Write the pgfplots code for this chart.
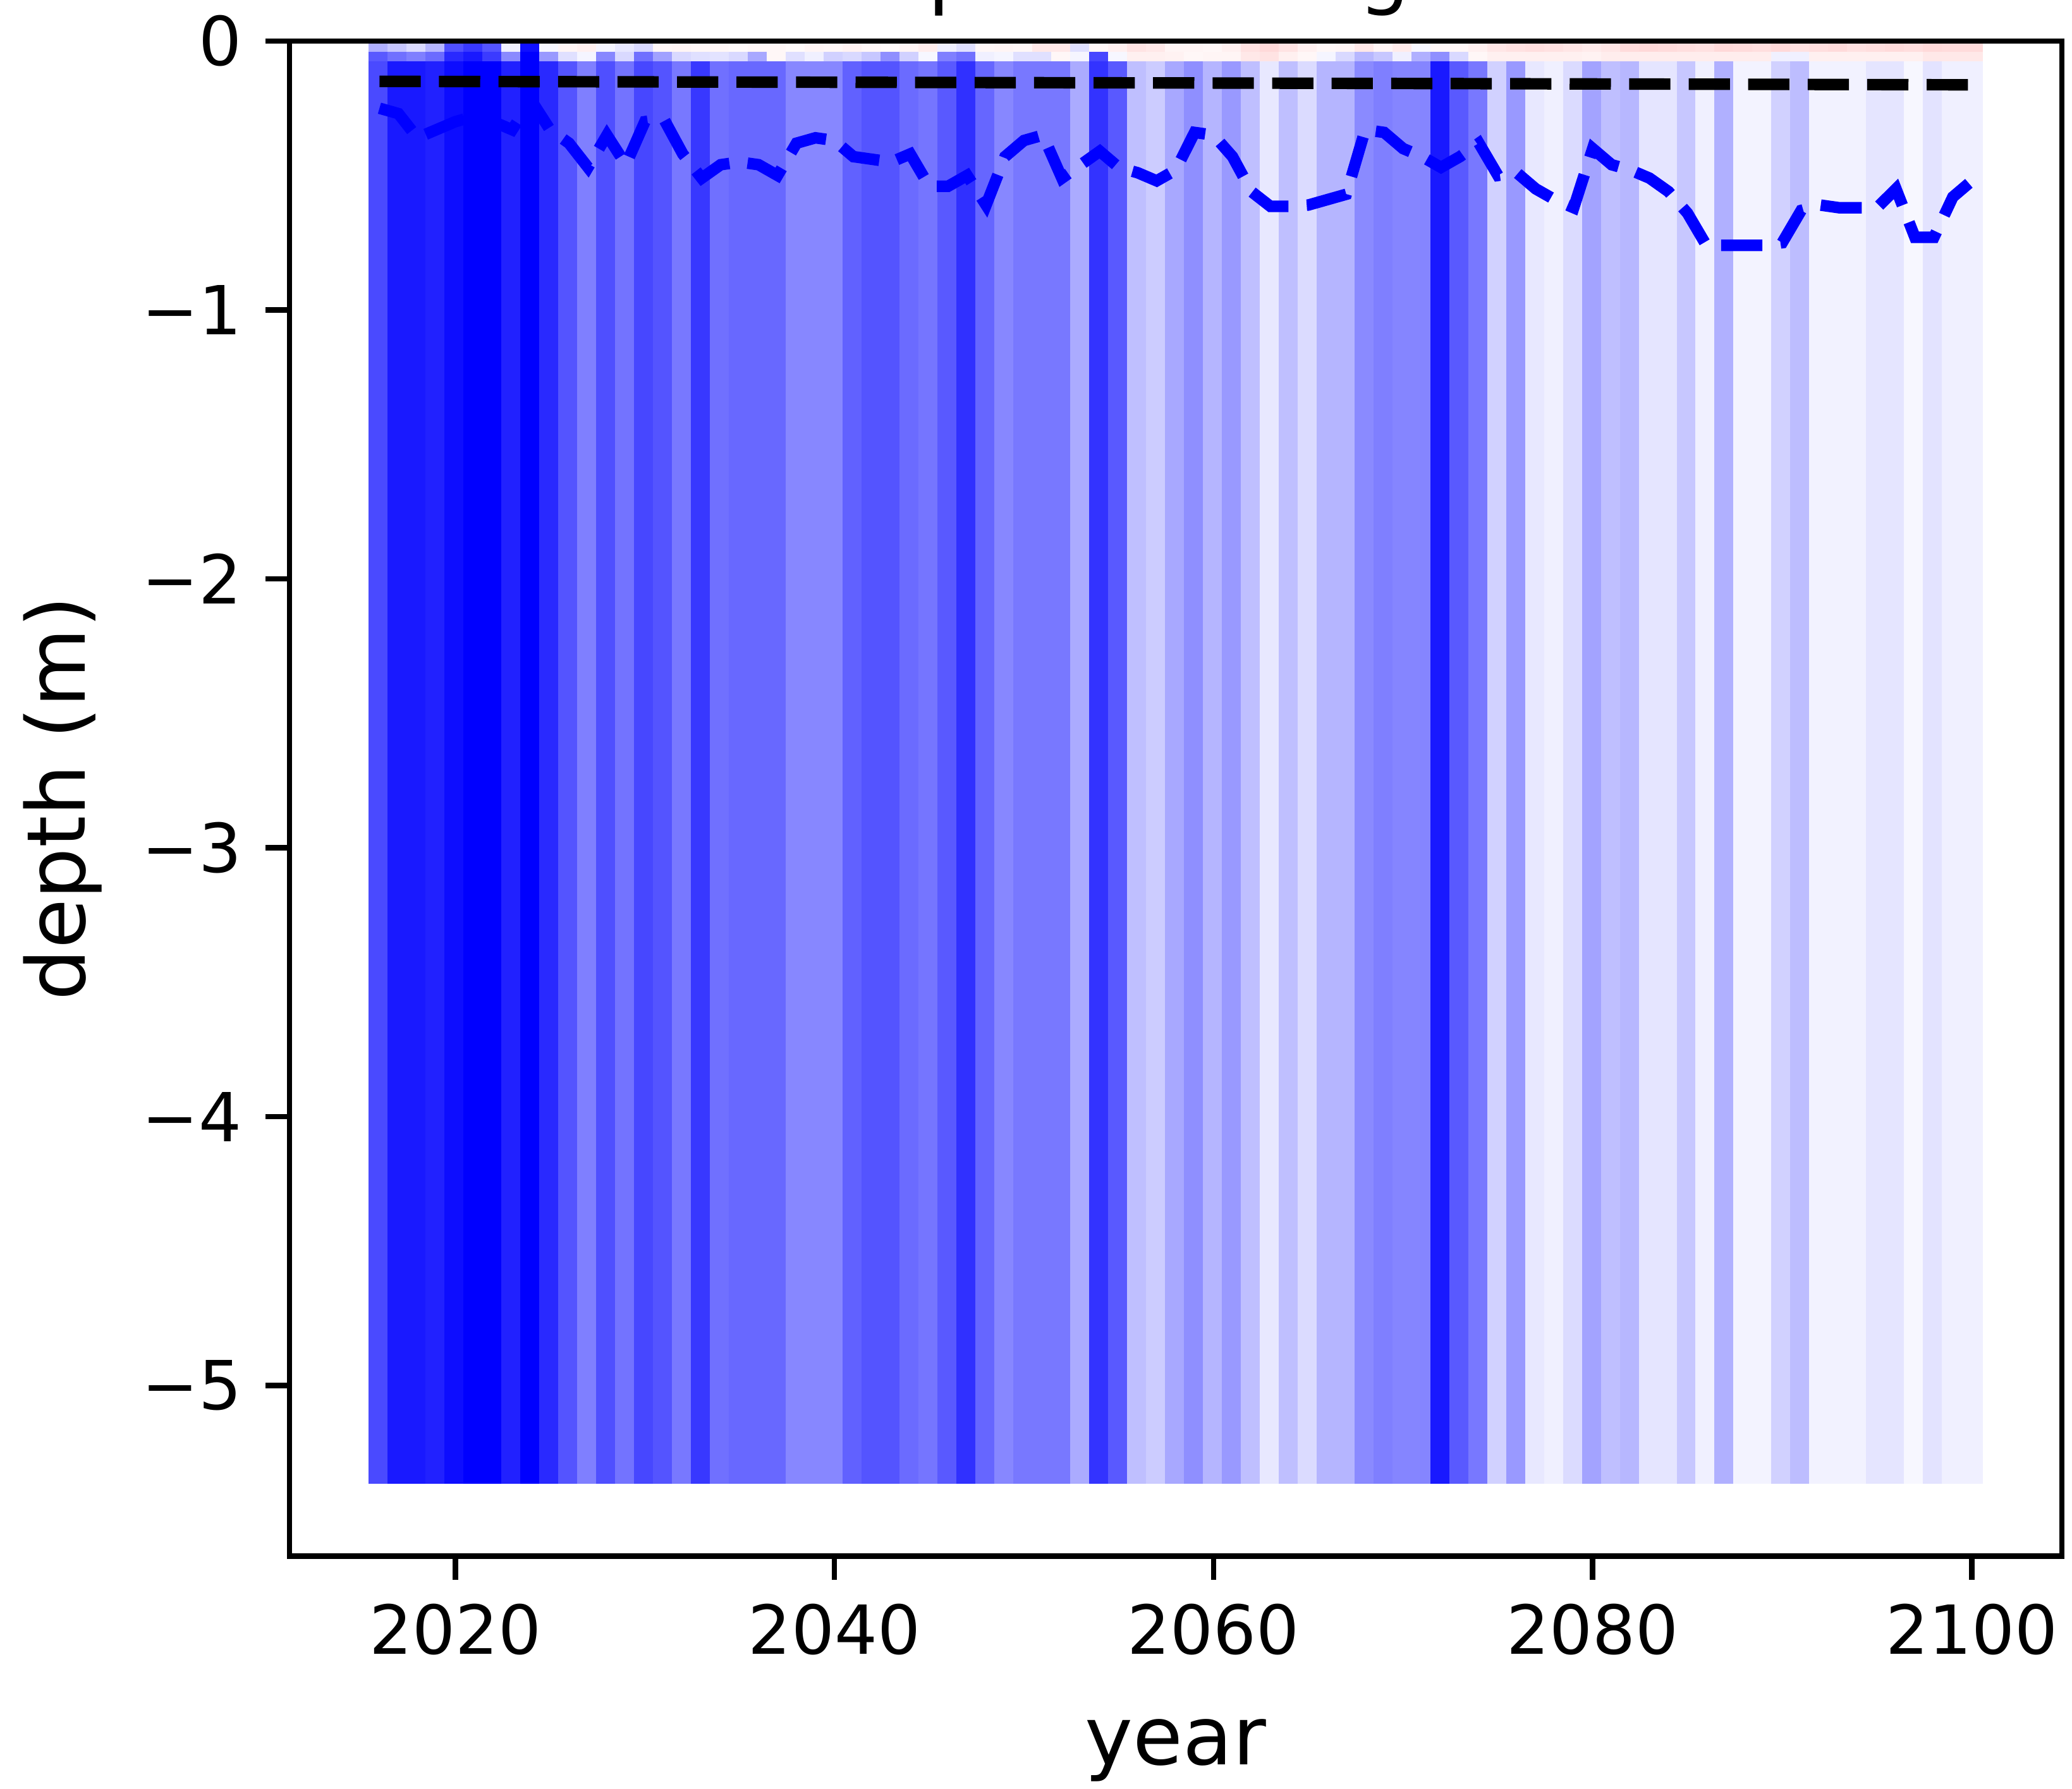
\documentclass[border=0pt]{standalone}
\usepackage{pgfplots}
\pgfplotsset{compat=1.18}
\usepackage{fontspec}
\setmainfont{DejaVu Sans}
\begin{document}
\begin{tikzpicture}
\begin{axis}[
  at={(0pt,0pt)}, anchor=south west,
  scale only axis, width=262.1pt, height=224.1pt,
  xmin=2011.25, xmax=2104.75, ymin=-5.634, ymax=0,
  axis on top,
  axis line style={line width=0.8pt, black},
  xtick={2020,2040,2060,2080,2100}, xticklabels={2020,2040,2060,2080,2100},
  ytick={-5,-4,-3,-2,-1,0}, yticklabels={−5,−4,−3,−2,−1,0},
  tick align=outside, xtick pos=bottom, ytick pos=left,
  major tick length=3.5pt, tick style={line width=0.8pt, black},
  ticklabel style={font=\fontsize{10}{12}\selectfont},
  /pgf/number format/assume math mode=true,
  xlabel={year}, ylabel={depth (m)},
  every axis x label/.style={at={(axis description cs:0.5,-0.1378)}, anchor=base, font=\fontsize{12}{14}\selectfont},
  every axis y label/.style={at={(axis description cs:-0.1278,0.5)}, rotate=90, anchor=center, font=\fontsize{12}{14}\selectfont},
  title={aquifer changes},
  every axis title/.style={at={(axis description cs:0.5,1.0277)}, anchor=base, font=\fontsize{12}{14}\selectfont},
  colormap={bwr}{rgb=(0,0,1) rgb=(1,1,1) rgb=(1,0,0)},
  point meta min=-1, point meta max=1,
]
\addplot[surf, shader=flat corner, mesh/cols=86, point meta=explicit] table[meta index=2, row sep=\\] {
x y c\\
2015.5 -5.36 -0.71\\ 2016.5 -5.36 -0.90\\ 2017.5 -5.36 -0.90\\ 2018.5 -5.36 -0.87\\ 2019.5 -5.36 -0.95\\
2020.5 -5.36 -1.00\\ 2021.5 -5.36 -1.00\\ 2022.5 -5.36 -0.87\\ 2023.5 -5.36 -1.00\\ 2024.5 -5.36 -0.84\\
2025.5 -5.36 -0.67\\ 2026.5 -5.36 -0.50\\ 2027.5 -5.36 -0.69\\ 2028.5 -5.36 -0.55\\ 2029.5 -5.36 -0.72\\
2030.5 -5.36 -0.67\\ 2031.5 -5.36 -0.53\\ 2032.5 -5.36 -0.78\\ 2033.5 -5.36 -0.56\\ 2034.5 -5.36 -0.59\\
2035.5 -5.36 -0.59\\ 2036.5 -5.36 -0.59\\ 2037.5 -5.36 -0.47\\ 2038.5 -5.36 -0.47\\ 2039.5 -5.36 -0.47\\
2040.5 -5.36 -0.62\\ 2041.5 -5.36 -0.67\\ 2042.5 -5.36 -0.67\\ 2043.5 -5.36 -0.58\\ 2044.5 -5.36 -0.54\\
2045.5 -5.36 -0.65\\ 2046.5 -5.36 -0.81\\ 2047.5 -5.36 -0.60\\ 2048.5 -5.36 -0.47\\ 2049.5 -5.36 -0.53\\
2050.5 -5.36 -0.53\\ 2051.5 -5.36 -0.53\\ 2052.5 -5.36 -0.33\\ 2053.5 -5.36 -0.80\\ 2054.5 -5.36 -0.65\\
2055.5 -5.36 -0.25\\ 2056.5 -5.36 -0.20\\ 2057.5 -5.36 -0.34\\ 2058.5 -5.36 -0.44\\ 2059.5 -5.36 -0.29\\
2060.5 -5.36 -0.40\\ 2061.5 -5.36 -0.25\\ 2062.5 -5.36 -0.09\\ 2063.5 -5.36 -0.25\\ 2064.5 -5.36 -0.14\\
2065.5 -5.36 -0.29\\ 2066.5 -5.36 -0.29\\ 2067.5 -5.36 -0.46\\ 2068.5 -5.36 -0.50\\ 2069.5 -5.36 -0.48\\
2070.5 -5.36 -0.48\\ 2071.5 -5.36 -0.90\\ 2072.5 -5.36 -0.65\\ 2073.5 -5.36 -0.53\\ 2074.5 -5.36 -0.18\\
2075.5 -5.36 -0.40\\ 2076.5 -5.36 -0.09\\ 2077.5 -5.36 -0.06\\ 2078.5 -5.36 -0.14\\ 2079.5 -5.36 -0.36\\
2080.5 -5.36 -0.25\\ 2081.5 -5.36 -0.28\\ 2082.5 -5.36 -0.10\\ 2083.5 -5.36 -0.10\\ 2084.5 -5.36 -0.22\\
2085.5 -5.36 -0.06\\ 2086.5 -5.36 -0.31\\ 2087.5 -5.36 -0.045\\ 2088.5 -5.36 -0.045\\ 2089.5 -5.36 -0.18\\
2090.5 -5.36 -0.26\\ 2091.5 -5.36 -0.05\\ 2092.5 -5.36 -0.05\\ 2093.5 -5.36 -0.05\\ 2094.5 -5.36 -0.10\\
2095.5 -5.36 -0.10\\ 2096.5 -5.36 -0.03\\ 2097.5 -5.36 -0.11\\ 2098.5 -5.36 -0.06\\ 2099.5 -5.36 -0.06\\
2100.5 -5.36 0\\
2015.5 -0.07 -0.65\\ 2016.5 -0.07 -0.56\\ 2017.5 -0.07 -0.50\\ 2018.5 -0.07 -0.58\\ 2019.5 -0.07 -0.84\\
2020.5 -0.07 -0.90\\ 2021.5 -0.07 -0.77\\ 2022.5 -0.07 -0.46\\ 2023.5 -0.07 -1.00\\ 2024.5 -0.07 -0.40\\
2025.5 -0.07 -0.12\\ 2026.5 -0.07 -0.04\\ 2027.5 -0.07 -0.47\\ 2028.5 -0.07 -0.15\\ 2029.5 -0.07 -0.56\\
2030.5 -0.07 -0.37\\ 2031.5 -0.07 -0.15\\ 2032.5 -0.07 -0.12\\ 2033.5 -0.07 -0.11\\ 2034.5 -0.07 -0.15\\
2035.5 -0.07 -0.34\\ 2036.5 -0.07 0.03\\ 2037.5 -0.07 -0.12\\ 2038.5 -0.07 -0.06\\ 2039.5 -0.07 -0.18\\
2040.5 -0.07 -0.15\\ 2041.5 -0.07 -0.22\\ 2042.5 -0.07 -0.44\\ 2043.5 -0.07 -0.18\\ 2044.5 -0.07 -0.03\\
2045.5 -0.07 -0.50\\ 2046.5 -0.07 -0.56\\ 2047.5 -0.07 -0.06\\ 2048.5 -0.07 -0.04\\ 2049.5 -0.07 -0.12\\
2050.5 -0.07 -0.12\\ 2051.5 -0.07 0.03\\ 2052.5 -0.07 -0.04\\ 2053.5 -0.07 -0.72\\ 2054.5 -0.07 -0.03\\
2055.5 -0.07 0.06\\ 2056.5 -0.07 0.06\\ 2057.5 -0.07 0.05\\ 2058.5 -0.07 0.03\\ 2059.5 -0.07 0.04\\
2060.5 -0.07 0.04\\ 2061.5 -0.07 0.09\\ 2062.5 -0.07 0.11\\ 2063.5 -0.07 0.06\\ 2064.5 -0.07 0.03\\
2065.5 -0.07 -0.04\\ 2066.5 -0.07 -0.15\\ 2067.5 -0.07 -0.28\\ 2068.5 -0.07 -0.22\\ 2069.5 -0.07 -0.06\\
2070.5 -0.07 -0.31\\ 2071.5 -0.07 -0.44\\ 2072.5 -0.07 -0.15\\ 2073.5 -0.07 0.03\\ 2074.5 -0.07 0.06\\
2075.5 -0.07 0.06\\ 2076.5 -0.07 0.06\\ 2077.5 -0.07 0.06\\ 2078.5 -0.07 0.06\\ 2079.5 -0.07 0.05\\
2080.5 -0.07 0.07\\ 2081.5 -0.07 0.07\\ 2082.5 -0.07 0.07\\ 2083.5 -0.07 0.07\\ 2084.5 -0.07 0.07\\
2085.5 -0.07 0.07\\ 2086.5 -0.07 0.07\\ 2087.5 -0.07 0.07\\ 2088.5 -0.07 0.07\\ 2089.5 -0.07 -0.06\\
2090.5 -0.07 -0.06\\ 2091.5 -0.07 0.06\\ 2092.5 -0.07 0.06\\ 2093.5 -0.07 0.06\\ 2094.5 -0.07 0.06\\
2095.5 -0.07 0.06\\ 2096.5 -0.07 0.06\\ 2097.5 -0.07 0.09\\ 2098.5 -0.07 0.09\\ 2099.5 -0.07 0.09\\
2100.5 -0.07 0\\
2015.5 -0.035 -0.31\\ 2016.5 -0.035 -0.22\\ 2017.5 -0.035 -0.14\\ 2018.5 -0.035 -0.28\\ 2019.5 -0.035 -0.69\\
2020.5 -0.035 -0.78\\ 2021.5 -0.035 -0.67\\ 2022.5 -0.035 -0.06\\ 2023.5 -0.035 -0.94\\ 2024.5 -0.035 -0.03\\
2025.5 -0.035 0.04\\ 2026.5 -0.035 0.06\\ 2027.5 -0.035 -0.04\\ 2028.5 -0.035 -0.09\\ 2029.5 -0.035 -0.15\\
2030.5 -0.035 0.03\\ 2031.5 -0.035 0.04\\ 2032.5 -0.035 0.03\\ 2033.5 -0.035 0.03\\ 2034.5 -0.035 0.02\\
2035.5 -0.035 0.03\\ 2036.5 -0.035 0.03\\ 2037.5 -0.035 0.02\\ 2038.5 -0.035 0.04\\ 2039.5 -0.035 0.03\\
2040.5 -0.035 0.05\\ 2041.5 -0.035 0.03\\ 2042.5 -0.035 0.02\\ 2043.5 -0.035 0.04\\ 2044.5 -0.035 0.07\\
2045.5 -0.035 -0.06\\ 2046.5 -0.035 -0.12\\ 2047.5 -0.035 0.03\\ 2048.5 -0.035 0.04\\ 2049.5 -0.035 0.03\\
2050.5 -0.035 0.09\\ 2051.5 -0.035 0.09\\ 2052.5 -0.035 -0.12\\ 2053.5 -0.035 0.03\\ 2054.5 -0.035 0.06\\
2055.5 -0.035 0.11\\ 2056.5 -0.035 0.09\\ 2057.5 -0.035 0.04\\ 2058.5 -0.035 0.04\\ 2059.5 -0.035 0.03\\
2060.5 -0.035 0.06\\ 2061.5 -0.035 0.12\\ 2062.5 -0.035 0.15\\ 2063.5 -0.035 0.11\\ 2064.5 -0.035 0.06\\
2065.5 -0.035 0.03\\ 2066.5 -0.035 0.04\\ 2067.5 -0.035 0.09\\ 2068.5 -0.035 0.04\\ 2069.5 -0.035 0.08\\
2070.5 -0.035 -0.03\\ 2071.5 -0.035 0.03\\ 2072.5 -0.035 0.03\\ 2073.5 -0.035 0.06\\ 2074.5 -0.035 0.10\\
2075.5 -0.035 0.12\\ 2076.5 -0.035 0.13\\ 2077.5 -0.035 0.12\\ 2078.5 -0.035 0.10\\ 2079.5 -0.035 0.08\\
2080.5 -0.035 0.10\\ 2081.5 -0.035 0.14\\ 2082.5 -0.035 0.15\\ 2083.5 -0.035 0.14\\ 2084.5 -0.035 0.13\\
2085.5 -0.035 0.12\\ 2086.5 -0.035 0.15\\ 2087.5 -0.035 0.14\\ 2088.5 -0.035 0.13\\ 2089.5 -0.035 0.15\\
2090.5 -0.035 0.12\\ 2091.5 -0.035 0.13\\ 2092.5 -0.035 0.14\\ 2093.5 -0.035 0.12\\ 2094.5 -0.035 0.13\\
2095.5 -0.035 0.14\\ 2096.5 -0.035 0.13\\ 2097.5 -0.035 0.15\\ 2098.5 -0.035 0.14\\ 2099.5 -0.035 0.14\\
2100.5 -0.035 0\\
2015.5 0 0\\ 2016.5 0 0\\ 2017.5 0 0\\ 2018.5 0 0\\ 2019.5 0 0\\
2020.5 0 0\\ 2021.5 0 0\\ 2022.5 0 0\\ 2023.5 0 0\\ 2024.5 0 0\\
2025.5 0 0\\ 2026.5 0 0\\ 2027.5 0 0\\ 2028.5 0 0\\ 2029.5 0 0\\
2030.5 0 0\\ 2031.5 0 0\\ 2032.5 0 0\\ 2033.5 0 0\\ 2034.5 0 0\\
2035.5 0 0\\ 2036.5 0 0\\ 2037.5 0 0\\ 2038.5 0 0\\ 2039.5 0 0\\
2040.5 0 0\\ 2041.5 0 0\\ 2042.5 0 0\\ 2043.5 0 0\\ 2044.5 0 0\\
2045.5 0 0\\ 2046.5 0 0\\ 2047.5 0 0\\ 2048.5 0 0\\ 2049.5 0 0\\
2050.5 0 0\\ 2051.5 0 0\\ 2052.5 0 0\\ 2053.5 0 0\\ 2054.5 0 0\\
2055.5 0 0\\ 2056.5 0 0\\ 2057.5 0 0\\ 2058.5 0 0\\ 2059.5 0 0\\
2060.5 0 0\\ 2061.5 0 0\\ 2062.5 0 0\\ 2063.5 0 0\\ 2064.5 0 0\\
2065.5 0 0\\ 2066.5 0 0\\ 2067.5 0 0\\ 2068.5 0 0\\ 2069.5 0 0\\
2070.5 0 0\\ 2071.5 0 0\\ 2072.5 0 0\\ 2073.5 0 0\\ 2074.5 0 0\\
2075.5 0 0\\ 2076.5 0 0\\ 2077.5 0 0\\ 2078.5 0 0\\ 2079.5 0 0\\
2080.5 0 0\\ 2081.5 0 0\\ 2082.5 0 0\\ 2083.5 0 0\\ 2084.5 0 0\\
2085.5 0 0\\ 2086.5 0 0\\ 2087.5 0 0\\ 2088.5 0 0\\ 2089.5 0 0\\
2090.5 0 0\\ 2091.5 0 0\\ 2092.5 0 0\\ 2093.5 0 0\\ 2094.5 0 0\\
2095.5 0 0\\ 2096.5 0 0\\ 2097.5 0 0\\ 2098.5 0 0\\ 2099.5 0 0\\
2100.5 0 0\\
};
\addplot[black, line width=1.7pt, dash pattern=on 6.1pt off 2.7pt] coordinates {(2016,-0.150) (2058,-0.156) (2100,-0.163)};
\addplot[blue, line width=1.7pt, dash pattern=on 6.1pt off 2.7pt] coordinates {
(2016,-0.25) (2017,-0.27) (2018,-0.36) (2019,-0.33) (2020,-0.30) (2021,-0.28) (2022,-0.30) (2023,-0.33) (2024,-0.22) (2025,-0.33)
(2026,-0.38) (2027,-0.47) (2028,-0.35) (2029,-0.46) (2030,-0.30) (2031,-0.29) (2032,-0.42) (2033,-0.51) (2034,-0.46) (2035,-0.45)
(2036,-0.46) (2037,-0.50) (2038,-0.38) (2039,-0.36) (2040,-0.37) (2041,-0.43) (2042,-0.44) (2043,-0.45) (2044,-0.42) (2045,-0.54)
(2046,-0.54) (2047,-0.50) (2048,-0.61) (2049,-0.43) (2050,-0.37) (2051,-0.35) (2052,-0.51) (2053,-0.46) (2054,-0.41) (2055,-0.47)
(2056,-0.49) (2057,-0.52) (2058,-0.48) (2059,-0.34) (2060,-0.35) (2061,-0.43) (2062,-0.56) (2063,-0.615) (2064,-0.615) (2065,-0.61)
(2066,-0.59) (2067,-0.57) (2068,-0.33) (2069,-0.34) (2070,-0.40) (2071,-0.43) (2072,-0.47) (2073,-0.43) (2074,-0.38) (2075,-0.50)
(2076,-0.49) (2077,-0.55) (2078,-0.59) (2079,-0.62) (2080,-0.40) (2081,-0.46) (2082,-0.48) (2083,-0.51) (2084,-0.56) (2085,-0.64)
(2086,-0.76) (2087,-0.76) (2088,-0.76) (2089,-0.76) (2090,-0.75) (2091,-0.63) (2092,-0.61) (2093,-0.62) (2094,-0.62) (2095,-0.62)
(2096,-0.55) (2097,-0.73) (2098,-0.73) (2099,-0.58) (2100,-0.52)};
\end{axis}
\pgfresetboundingbox
\useasboundingbox (-42.8pt,-34.4pt) rectangle (263.6pt,230.17pt);
\end{tikzpicture}
\end{document}
